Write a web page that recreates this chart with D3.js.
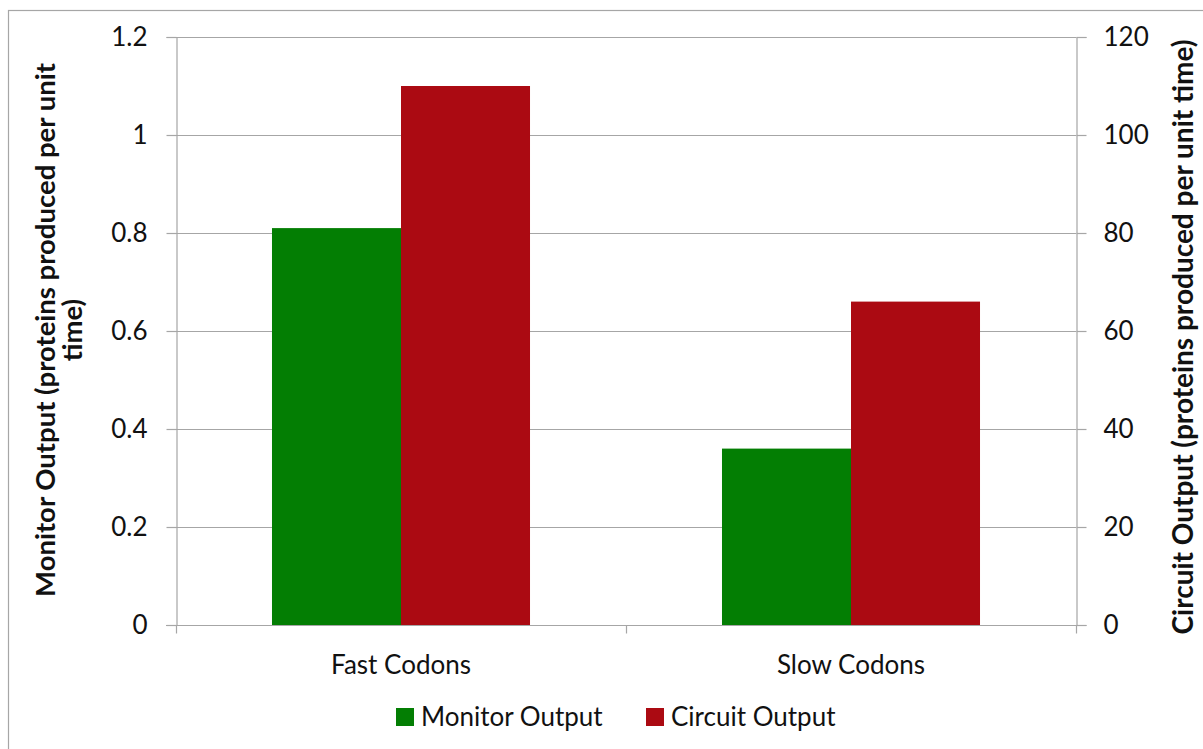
<!DOCTYPE html>
<html><head><meta charset="utf-8">
<script src="https://cdn.jsdelivr.net/npm/d3@7"></script>
<style>
html,body{margin:0;padding:0;background:#fff;}
text{font-family:"Lato","Open Sans",sans-serif;fill:#111;}
</style></head>
<body>
<svg id="chart" width="1203" height="749"></svg>
<script>
const categories = ["Fast Codons", "Slow Codons"];
const seriesNames = ["Monitor Output", "Circuit Output"];
const monitorValues = [0.81, 0.36];
const circuitValues = [110, 66];
const leftTicks = [0, 0.2, 0.4, 0.6, 0.8, 1, 1.2];
const rightTicks = [0, 20, 40, 60, 80, 100, 120];
const leftTitleLines = ["Monitor Output (proteins produced per unit", "time)"];
const rightTitle = "Circuit Output (proteins produced per unit time)";
const colors = ["#037E03", "#AB0A12"];

const FS = 26;
const svg = d3.select("#chart");
const L = 176, R = 1076, T = 37, B = 625;

// outer frame
svg.append("rect").attr("x", 8.5).attr("y", 10.5).attr("width", 1220).attr("height", 760)
  .attr("fill", "none").attr("stroke", "#a6a6a6").attr("stroke-width", 1.2);

const yL = d3.scaleLinear().domain([0, 1.2]).range([B, T]);
const yR = d3.scaleLinear().domain([0, 120]).range([B, T]);
const x0 = d3.scaleBand().domain(categories).range([L, R]).padding(0);
const x1 = d3.scaleBand().domain(seriesNames).range([0, x0.bandwidth()]).paddingInner(0).paddingOuter(0.744);

// gridlines
svg.append("g").selectAll("line").data(leftTicks.filter(d => d > 0)).join("line")
  .attr("x1", L).attr("x2", R).attr("y1", d => Math.round(yL(d)) + 0.5).attr("y2", d => Math.round(yL(d)) + 0.5)
  .attr("stroke", "#a6a6a6").attr("stroke-width", 1.2);

// bars
const data = categories.map((c, i) => ({cat: c, vals: [
  {s: seriesNames[0], v: monitorValues[i], y: yL},
  {s: seriesNames[1], v: circuitValues[i], y: yR}]}));
const g = svg.append("g").selectAll("g").data(data).join("g")
  .attr("transform", d => `translate(${x0(d.cat)},0)`);
g.selectAll("rect").data(d => d.vals).join("rect")
  .attr("x", d => x1(d.s)).attr("width", x1.bandwidth())
  .attr("y", d => d.y(d.v)).attr("height", d => B - d.y(d.v))
  .attr("fill", (d, i) => colors[i]);

// left axis
const axL = svg.append("g").attr("transform", `translate(${L + 0.5},0)`)
  .call(d3.axisLeft(yL).tickValues(leftTicks).tickFormat(d3.format("~g")).tickSize(10).tickPadding(19));
// right axis
const axR = svg.append("g").attr("transform", `translate(${R + 0.5},0)`)
  .call(d3.axisRight(yR).tickValues(rightTicks).tickFormat(d3.format("d")).tickSize(10).tickPadding(17));
// bottom axis
const xTicks = d3.scaleLinear().domain([0, 2]).range([L, R]);
const axB = svg.append("g").attr("transform", `translate(0,${B + 0.5})`)
  .call(d3.axisBottom(xTicks).tickValues([0, 1, 2]).tickFormat("").tickSize(8));
[axL, axR, axB].forEach(a => {
  a.selectAll("path,line").attr("stroke", "#a6a6a6").attr("stroke-width", 1.2);
  a.selectAll("text").style("font-size", FS + "px").attr("fill", "#111").style("font-family", "Lato,sans-serif");
});
axB.select(".domain").remove();
svg.append("line").attr("x1", L - 10).attr("x2", R + 10).attr("y1", B + 0.5).attr("y2", B + 0.5)
  .attr("stroke", "#a6a6a6").attr("stroke-width", 1.2);

// category labels
svg.append("g").selectAll("text").data(categories).join("text")
  .attr("x", d => x0(d) + x0.bandwidth() / 2).attr("y", 674)
  .attr("text-anchor", "middle").style("font-size", FS + "px").text(d => d);

// axis titles
const ltBase = [55, 82];
svg.append("g").selectAll("text").data(leftTitleLines).join("text")
  .attr("transform", (d, i) => `translate(${ltBase[i]},330) rotate(-90)`)
  .attr("text-anchor", "middle").style("font-size", "27.5px").style("font-weight", "bold")
  .text(d => d);
svg.append("text").attr("transform", "translate(1193,337) rotate(-90)")
  .attr("text-anchor", "middle").style("font-size", "28px").style("font-weight", "bold")
  .text(rightTitle);

// legend
const legX = [396, 646];
const leg = svg.append("g").selectAll("g").data(seriesNames).join("g")
  .attr("transform", (d, i) => `translate(${legX[i]},708)`);
leg.append("rect").attr("width", 18).attr("height", 18).attr("fill", (d, i) => colors[i]);
leg.append("text").attr("x", 25).attr("y", 18).style("font-size", FS + "px").text(d => d);
</script>
</body></html>
